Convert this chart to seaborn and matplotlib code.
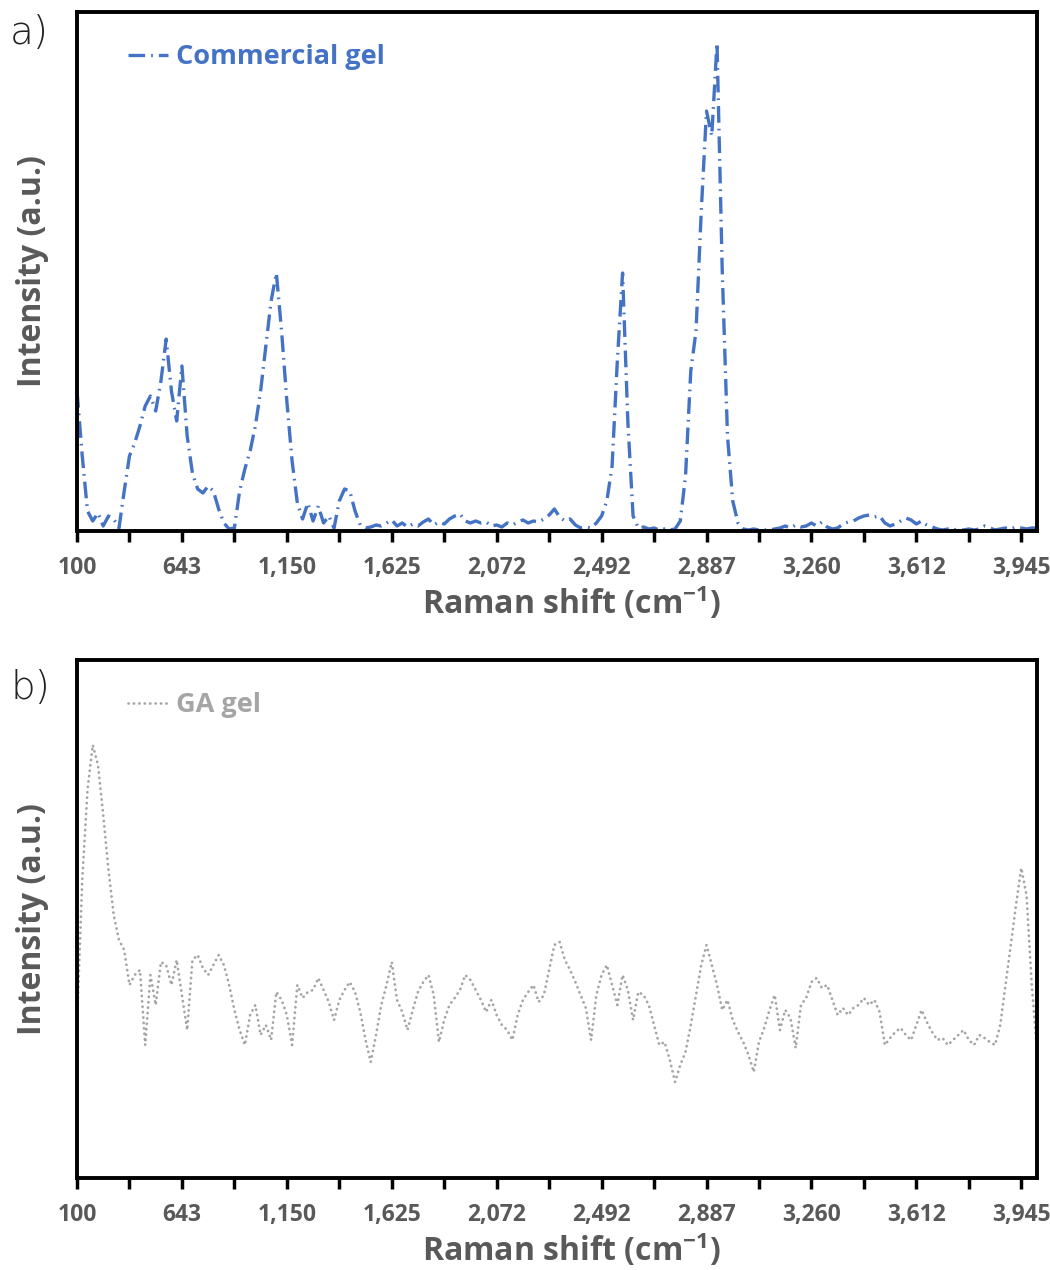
import numpy as np
import pandas as pd
import matplotlib
matplotlib.use("Agg")
import matplotlib.pyplot as plt
import seaborn as sns
from matplotlib.ticker import FixedLocator

# ---------------- data ----------------
tick_labels = ["100", "643", "1,150", "1,625", "2,072", "2,492", "2,887", "3,260", "3,612", "3,945"]
tick_step = 20  # data points between labelled ticks (category axis)

commercial_gel = [
    140, 75, 20, 10, 18, 5, 15, 12, 3, 40,
    75, 88, 105, 125, 135, 120, 150, 192, 140, 110,
    165, 95, 58, 42, 38, 45, 40, 22, 8, 2,
    3, 40, 62, 80, 105, 140, 185, 230, 258, 200,
    130, 70, 28, 12, 28, 10, 25, 8, 15, 3,
    30, 42, 40, 20, 6, 3, 4, 6, 5, 8,
    11, 5, 8, 4, 7, 5, 9, 12, 6, 9,
    7, 12, 15, 17, 10, 8, 10, 8, 9, 5,
    6, 4, 8, 6, 9, 11, 8, 10, 9, 12,
    16, 22, 14, 10, 12, 6, 3, 4, 3, 8,
    15, 30, 65, 170, 258, 110, 15, 3, 4, 2,
    3, 1, 2, 1, 2, 10, 55, 160, 200, 320,
    420, 395, 488, 260, 95, 30, 8, 2, 1, 2,
    1, 1, 1, 2, 3, 5, 3, 6, 4, 5,
    8, 5, 9, 4, 2, 3, 7, 9, 10, 13,
    15, 16, 14, 15, 8, 5, 7, 10, 13, 11,
    7, 10, 6, 4, 2, 1, 2, 1, 2, 1,
    2, 1, 2, 5, 3, 1, 2, 3, 2, 4,
    3, 2, 3, 3,
]

ga_gel = [
    153, 298, 388, 433, 413, 363, 308, 263, 238, 228,
    193, 203, 208, 133, 203, 173, 216, 213, 193, 218,
    183, 148, 218, 223, 210, 203, 213, 223, 213, 193,
    168, 148, 133, 163, 173, 143, 153, 138, 186, 178,
    163, 133, 193, 180, 186, 188, 200, 188, 176, 158,
    178, 188, 196, 186, 166, 138, 116, 143, 173, 193,
    216, 178, 166, 148, 168, 186, 196, 203, 183, 136,
    158, 173, 180, 188, 203, 198, 188, 178, 166, 178,
    163, 153, 148, 138, 163, 178, 186, 193, 176, 183,
    208, 233, 236, 218, 208, 196, 183, 170, 138, 183,
    203, 213, 193, 173, 203, 188, 158, 186, 183, 173,
    153, 133, 136, 118, 96, 113, 126, 153, 183, 213,
    233, 213, 193, 168, 178, 158, 146, 136, 123, 106,
    136, 150, 168, 183, 148, 168, 160, 130, 173, 180,
    196, 200, 190, 193, 178, 163, 170, 163, 170, 173,
    180, 173, 178, 166, 133, 140, 146, 150, 143, 138,
    153, 168, 156, 146, 138, 140, 133, 138, 143, 148,
    138, 133, 143, 140, 136, 133, 153, 193, 233, 273,
    310, 283, 193, 128,
]

series_names = ["Commercial gel", "GA gel"]
series_colors = ["#4472C4", "#A5A5A5"]

# ---------------- style ----------------
sns.set_theme(style="white")
plt.rcParams["font.family"] = ["Open Sans", "DejaVu Sans"]
plt.rcParams["mathtext.fontset"] = "custom"
plt.rcParams["mathtext.rm"] = "Open Sans:bold"
plt.rcParams["mathtext.it"] = "Open Sans:bold"
plt.rcParams["mathtext.bf"] = "Open Sans:bold"
plt.rcParams["mathtext.default"] = "rm"

text_gray = "#595959"

fig = plt.figure(figsize=(10.5, 12.7), dpi=100)
ax_a = fig.add_axes([77 / 1050, 1 - 531 / 1270, 960 / 1050, 519 / 1270])
ax_b = fig.add_axes([77 / 1050, 1 - 1178 / 1270, 960 / 1050, 518 / 1270])

styles = [
    dict(linestyle=(0, (5, 1.8, 0.5, 1.8)), linewidth=2.4, dash_capstyle="butt"),
    dict(linestyle=(0, (0.05, 1.9)), linewidth=2.0, dash_capstyle="round"),
]

datasets = [commercial_gel, ga_gel]
ylims = [519, 518]

for ax, data, name, color, st, ytop in zip(
    [ax_a, ax_b], datasets, series_names, series_colors, styles, ylims
):
    df = pd.DataFrame({"idx": np.arange(len(data)), "intensity": data})
    sns.lineplot(data=df, x="idx", y="intensity", ax=ax, color=color, label=name, **st)
    n = len(data)
    ax.set_xlim(0, n - 1)
    ax.set_ylim(0, ytop)
    ax.set_yticks([])
    major = [i * tick_step for i in range(len(tick_labels))]
    minor = [i * tick_step + tick_step // 2 for i in range(len(tick_labels) - 1)]
    ax.xaxis.set_major_locator(FixedLocator(major))
    ax.xaxis.set_minor_locator(FixedLocator(minor))
    ax.set_xticklabels(tick_labels)
    ax.tick_params(axis="x", which="both", direction="out", length=8, width=2.5,
                   color="black", bottom=True)
    ax.tick_params(axis="x", which="major", labelsize=16.5, labelcolor=text_gray, pad=10)
    for lab in ax.get_xticklabels():
        lab.set_fontweight("bold")
    for sp in ax.spines.values():
        sp.set_visible(True)
        sp.set_color("black")
        sp.set_linewidth(2.8)
    ax.set_xlabel("Raman shift (cm$^{-1}$)", fontsize=23, fontweight="bold",
                  color=text_gray)
    ax.xaxis.set_label_coords(0.515, -0.102)
    ax.set_ylabel("Intensity (a.u.)", fontsize=23, fontweight="bold", color=text_gray)
    ax.yaxis.set_label_coords(-0.029, 0.5)
    ax.set_facecolor("white")
    ax.legend(loc="upper left", bbox_to_anchor=(0.028, 0.985), frameon=False,
              labelcolor="linecolor", handlelength=1.45, handletextpad=0.3,
              prop={"family": "Open Sans", "weight": "bold", "size": 19.5})

fig.text(10 / 1050, 1 - 33 / 1270, "a)", fontsize=28, color="#222222",
         family="DejaVu Sans", fontweight="light", va="center", ha="left")
fig.text(10 / 1050, 1 - 688 / 1270, "b)", fontsize=28, color="#222222",
         family="DejaVu Sans", fontweight="light", va="center", ha="left")

fig.savefig("out.png", dpi=100, facecolor="white")
